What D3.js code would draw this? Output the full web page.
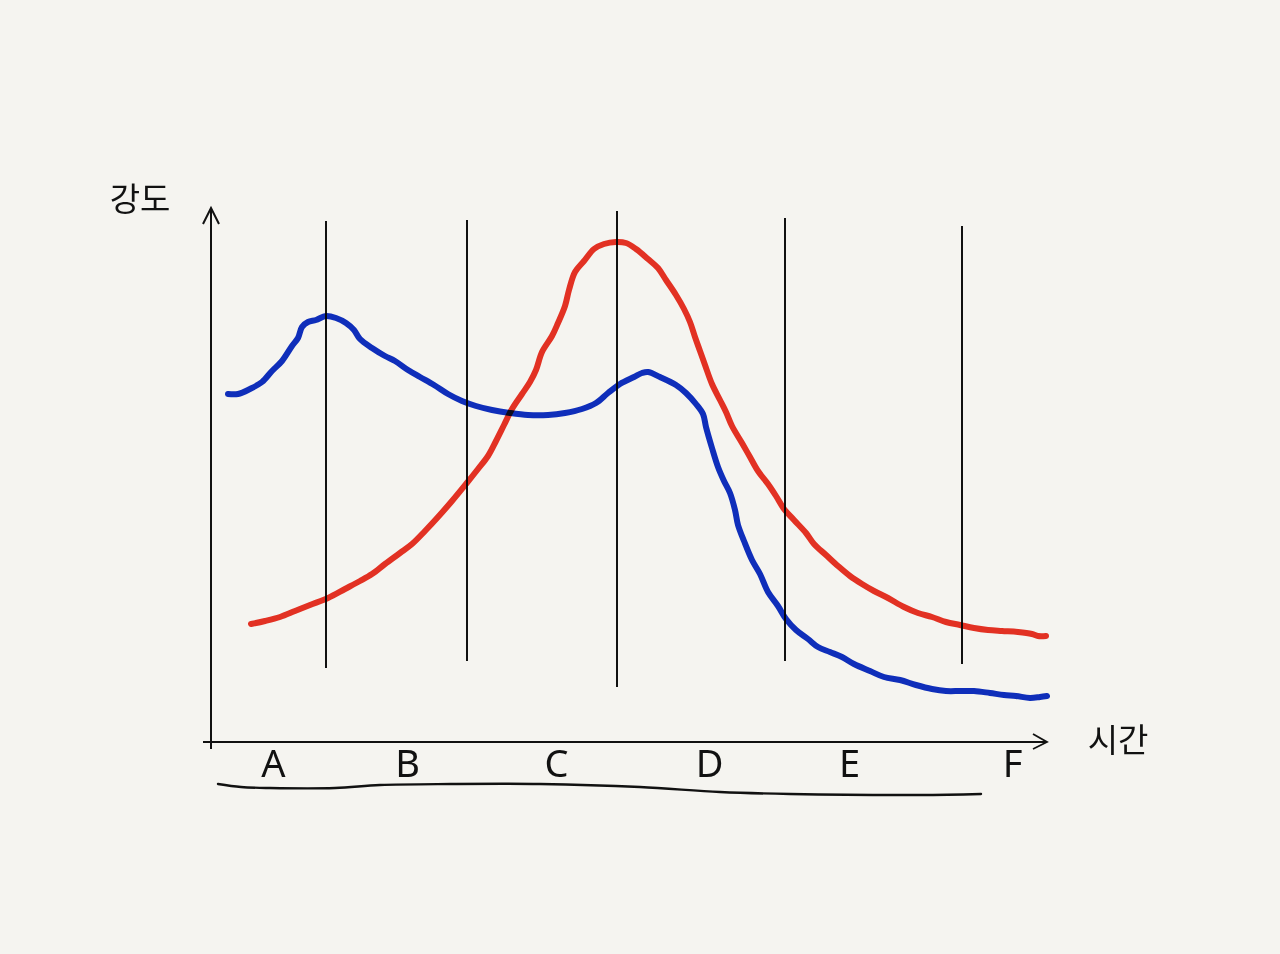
<!DOCTYPE html>
<html lang="ko">
<head>
<meta charset="utf-8">
<title>강도 / 시간</title>
<script src="https://cdnjs.cloudflare.com/ajax/libs/d3/7.8.5/d3.min.js"></script>
<style>
  html, body { margin: 0; padding: 0; background: #f5f4f0; overflow: hidden; }
  text { fill: #111; }
</style>
</head>
<body>
<div id="vis"></div>
<script>
// intensity over time. x and y are in sketch units
const blueX = [17, 27, 39, 51, 61, 71, 81, 87, 91, 97, 105, 115, 125, 135, 143, 149, 161, 174, 184, 197, 209, 223, 237, 251, 265, 281, 299, 317, 337, 354, 371, 385, 397, 409, 423, 431, 437, 449, 465, 475, 485, 492, 495, 501, 507, 513, 519, 524, 527, 533, 541, 549, 557, 567, 575, 585, 597, 607, 619, 631, 643, 659, 673, 689, 705, 721, 735, 749, 763, 779, 793, 805, 819, 829, 836];
const blueY = [348, 348, 353, 360, 371, 381, 396, 404, 415, 420, 422, 426, 424, 419, 412, 403, 394, 386, 381, 372, 365, 357, 348, 341, 336, 332, 329, 327, 327, 329, 333, 339, 349, 358, 365, 369, 370, 365, 357, 349, 338, 328, 315, 294, 275, 261, 249, 232, 217, 201, 182, 168, 150, 136, 123, 112, 103, 95, 90, 85, 78, 71, 65, 62, 57, 53, 51, 51, 51, 49, 47, 46, 44, 45, 46];
const redX = [40, 54, 69, 84, 99, 117, 134, 149, 161, 174, 189, 201, 214, 227, 241, 255, 267, 277, 285, 293, 301, 311, 319, 325, 331, 341, 347, 354, 358, 364, 373, 383, 393, 405, 415, 425, 437, 447, 455, 465, 473, 479, 484, 489, 494, 501, 509, 515, 521, 531, 539, 547, 557, 565, 573, 583, 595, 603, 615, 627, 639, 651, 663, 677, 693, 707, 721, 735, 749, 763, 777, 791, 807, 821, 827, 835];
const redY = [118, 121, 125, 131, 137, 144, 153, 161, 168, 178, 189, 198, 211, 225, 241, 258, 273, 286, 301, 317, 333, 348, 360, 372, 390, 406, 419, 436, 452, 470, 481, 493, 498, 500, 499, 493, 483, 474, 462, 447, 433, 420, 405, 391, 377, 358, 342, 330, 316, 299, 285, 271, 258, 246, 233, 222, 209, 198, 187, 176, 166, 158, 151, 144, 135, 129, 125, 120, 117, 114, 112, 111, 110, 108, 106, 106];

const dividerX = [115, 256, 406, 574, 751];
const dividerTop = [521, 522, 531, 524, 516];
const dividerBottom = [74, 81, 55, 81, 78];

const categories = ["A", "B", "C", "D", "E", "F"];
const categoryX = [62, 196, 345, 498, 638, 801];

// the long bracket line under the letters
const braceX = [7, 30, 59, 124, 169, 240, 329, 429, 509, 579, 709, 770];
const braceY = [-42, -45, -46, -46, -43, -42, -42, -45, -50, -52, -53, -52];

const FRAME_WIDTH = 1280;
const FRAME_HEIGHT = 954;
const ORIGIN = { x: 211, y: 742 };
const X_MAX = 836;
const Y_MAX = 534;

const X_SCALE = d3.scaleLinear().domain([0, X_MAX]).range([ORIGIN.x, ORIGIN.x + X_MAX]);
const Y_SCALE = d3.scaleLinear().domain([0, Y_MAX]).range([ORIGIN.y, ORIGIN.y - Y_MAX]);

const FRAME = d3.select("#vis")
    .append("svg")
    .attr("width", FRAME_WIDTH)
    .attr("height", FRAME_HEIGHT)
    .style("display", "block");

const curve = (xs, ys) => d3.line()
    .x((d, i) => X_SCALE(xs[i]))
    .y((d, i) => Y_SCALE(ys[i]))
    .curve(d3.curveCatmullRom.alpha(0.5))(xs);

// x axis carries the letters, y axis is just the bare line
const X_AXIS = FRAME.append("g")
    .attr("transform", "translate(0," + ORIGIN.y + ")")
    .call(d3.axisBottom(X_SCALE)
        .tickValues(categoryX)
        .tickFormat((d, i) => categories[i])
        .tickSize(0)
        .tickPadding(8)
        .tickSizeOuter(0));
X_AXIS.select(".domain")
    .attr("d", "M" + (X_SCALE(0) - 8) + ",0H" + X_SCALE(X_MAX))
    .attr("stroke", "#111")
    .attr("stroke-width", 2);
X_AXIS.selectAll("text")
    .attr("font-family", "'Noto Sans', sans-serif")
    .attr("font-size", 38)
    .attr("fill", "#111");

const Y_AXIS = FRAME.append("g")
    .attr("transform", "translate(" + ORIGIN.x + ",0)")
    .call(d3.axisLeft(Y_SCALE).tickValues([]).tickSizeOuter(0));
Y_AXIS.select(".domain")
    .attr("d", "M0," + Y_SCALE(Y_MAX) + "V" + Y_SCALE(-7))
    .attr("stroke", "#111")
    .attr("stroke-width", 2);

// arrow heads
FRAME.append("path")
    .attr("d", "M" + X_SCALE(X_MAX - 14) + "," + Y_SCALE(8) + "L" + X_SCALE(X_MAX) + "," + Y_SCALE(0) + "L" + X_SCALE(X_MAX - 14) + "," + Y_SCALE(-7))
    .attr("fill", "none").attr("stroke", "#111").attr("stroke-width", 1.8);
FRAME.append("path")
    .attr("d", "M" + X_SCALE(-8) + "," + Y_SCALE(Y_MAX - 16) + "L" + X_SCALE(0) + "," + Y_SCALE(Y_MAX) + "L" + X_SCALE(8) + "," + Y_SCALE(Y_MAX - 16))
    .attr("fill", "none").attr("stroke", "#111").attr("stroke-width", 2);

FRAME.selectAll(".divider")
    .data(dividerX)
    .enter()
    .append("line")
    .attr("class", "divider")
    .attr("x1", (d) => X_SCALE(d))
    .attr("x2", (d) => X_SCALE(d))
    .attr("y1", (d, i) => Y_SCALE(dividerTop[i]))
    .attr("y2", (d, i) => Y_SCALE(dividerBottom[i]))
    .attr("stroke", "#111")
    .attr("stroke-width", 2);

// multiply so the black lines and the crossing show through the ink
FRAME.append("path")
    .attr("d", curve(redX, redY))
    .attr("fill", "none")
    .attr("stroke", "#ec3325")
    .attr("stroke-width", 6)
    .attr("stroke-linecap", "round")
    .attr("stroke-linejoin", "round")
    .style("mix-blend-mode", "multiply");

FRAME.append("path")
    .attr("d", curve(blueX, blueY))
    .attr("fill", "none")
    .attr("stroke", "#0f30c6")
    .attr("stroke-width", 6)
    .attr("stroke-linecap", "round")
    .attr("stroke-linejoin", "round")
    .style("mix-blend-mode", "multiply");

FRAME.append("path")
    .attr("d", curve(braceX, braceY))
    .attr("fill", "none")
    .attr("stroke", "#111")
    .attr("stroke-width", 2.4)
    .attr("stroke-linecap", "round");

// axis titles
FRAME.append("text")
    .attr("x", 140)
    .attr("y", 211)
    .attr("text-anchor", "middle")
    .attr("font-family", "'Noto Sans CJK KR', sans-serif")
    .attr("font-size", 33)
    .text("강도");

FRAME.append("text")
    .attr("x", 1118)
    .attr("y", 752)
    .attr("text-anchor", "middle")
    .attr("font-family", "'Noto Sans CJK KR', sans-serif")
    .attr("font-size", 33)
    .text("시간");
</script>
</body>
</html>
